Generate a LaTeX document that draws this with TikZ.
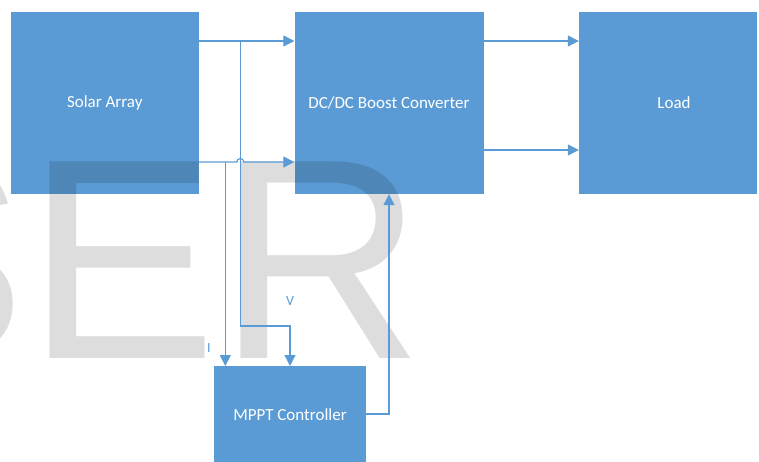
\documentclass[tikz,border=0pt]{standalone}
\usepackage{fontspec}
\setmainfont{Carlito}
\newfontfamily\wmfont{Liberation Sans}
\usetikzlibrary{arrows.meta}
\definecolor{boxblue}{HTML}{5B9BD5}
\definecolor{lineblue}{HTML}{5B9BD5}
\tikzset{
  blk/.style={fill=boxblue, draw=none, inner sep=0pt, text=white, font=\fontsize{17}{20}\selectfont},
  wire/.style={draw=lineblue, line width=1.2pt},
  arr/.style={wire, -{Triangle[length=11pt,width=11pt]}},
  lbl/.style={text=lineblue, inner sep=0pt, font=\fontsize{14}{16}\selectfont}
}
\begin{document}
\begin{tikzpicture}[x=1pt,y=-1pt]
\useasboundingbox (0,0) rectangle (759,462);
% blocks
\node[blk, minimum width=187.5pt, minimum height=182pt] (solar) at (104.75,103) {Solar Array};
\node[blk, minimum width=189pt, minimum height=182pt] (dcdc) at (389,103) {DC/DC Boost Converter};
\node[blk, minimum width=178pt, minimum height=182pt] (load) at (668,103) {\hspace*{12pt}Load};
\node[blk, minimum width=152pt, minimum height=96pt, anchor=north] (mppt) at (290,366) {MPPT Controller};
% watermark
\begin{scope}
\clip (0,0) rectangle (759,462);
\node[anchor=base west, inner sep=0pt, text=black, text opacity=0.135, font=\wmfont\fontsize{286}{286}\selectfont] (wm) at (-164.6,358) {SER};
\end{scope}
% helper coordinates
\coordinate (ya) at (0,41);
\coordinate (yb) at (0,162);
\coordinate (yc) at (0,150);
\coordinate (vx) at (240.3,0);
\coordinate (ix) at (225.3,0);
\coordinate (vy) at (0,326);
\coordinate (mx) at (290,0);
\coordinate (fx) at (389,0);
\coordinate (fy) at (0,414);
% connectors
\draw[arr] (solar.east |- ya) -- (dcdc.west |- ya);
\draw[arr] (solar.east |- yb) -- ([xshift=-3.5pt]vx |- yb) .. controls +(0,-4.5) and +(0,-4.5) .. ([xshift=3.5pt]vx |- yb) -- (dcdc.west |- yb);
\draw[arr] (vx |- ya) |- (mx |- vy) -- (mx |- mppt.north);
\draw[arr] (ix |- yb) -- (ix |- mppt.north);
\draw[arr] (mppt.east |- fy) -| (dcdc.south -| fx);
\draw[arr] (dcdc.east |- ya) -- (load.west |- ya);
\draw[arr] (dcdc.east |- yc) -- (load.west |- yc);
% labels
\node[lbl] (vlab) at (290,301) {V};
\node[lbl] (ilab) at (209,348) {I};
\end{tikzpicture}
\end{document}
